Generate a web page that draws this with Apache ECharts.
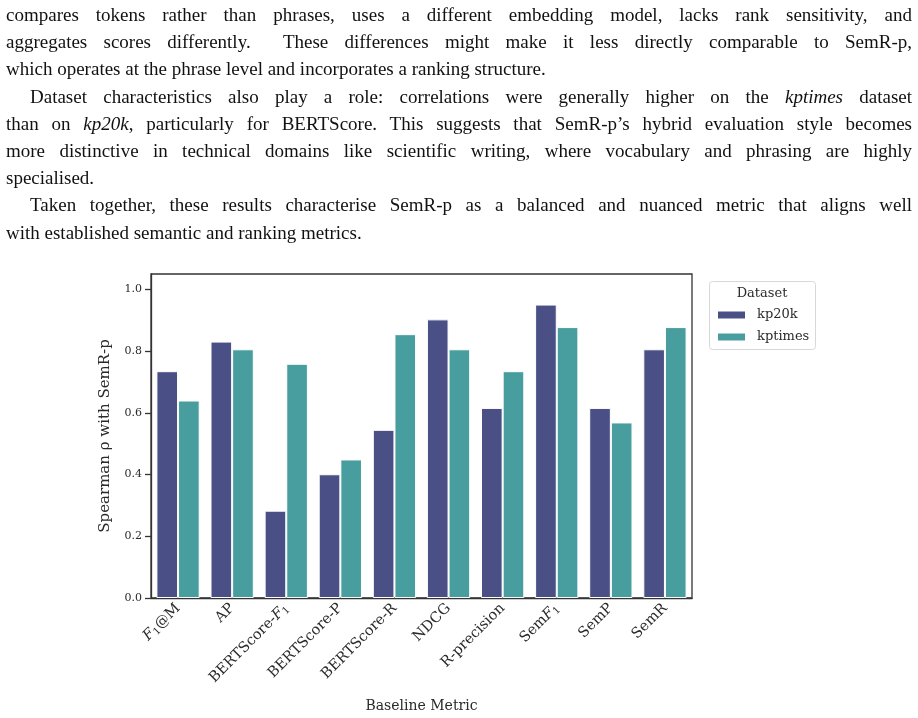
<!DOCTYPE html>
<html>
<head>
<meta charset="utf-8">
<script src="https://cdn.jsdelivr.net/npm/echarts@6/dist/echarts.min.js"></script>
<style>
  html, body { margin: 0; padding: 0; background: #fff; }
  #wrap { position: relative; width: 918px; height: 718px; overflow: hidden; }
  #chart { position: absolute; left: 0; top: 0; width: 918px; height: 718px; }
  #text { position: absolute; left: 6px; top: 1px; width: 906px; font-family: "Liberation Serif", serif; font-size: 19px; color: #111; line-height: 27.2px; }
  .ln { white-space: nowrap; text-align: justify; text-align-last: justify; }
  .last { text-align-last: left; }
  .ind { text-indent: 24px; }
</style>
</head>
<body>
<div id="wrap">
  <div id="chart"></div>
  <div id="text">
    <div class="ln">compares tokens rather than phrases, uses a different embedding model, lacks rank sensitivity, and</div>
    <div class="ln">aggregates scores differently.&nbsp; These differences might make it less directly comparable to SemR-p,</div>
    <div class="ln last">which operates at the phrase level and incorporates a ranking structure.</div>
    <div class="ln ind">Dataset characteristics also play a role: correlations were generally higher on the <i>kptimes</i> dataset</div>
    <div class="ln">than on <i>kp20k</i>, particularly for BERTScore. This suggests that SemR-p’s hybrid evaluation style becomes</div>
    <div class="ln">more distinctive in technical domains like scientific writing, where vocabulary and phrasing are highly</div>
    <div class="ln last">specialised.</div>
    <div class="ln ind">Taken together, these results characterise SemR-p as a balanced and nuanced metric that aligns well</div>
    <div class="ln last">with established semantic and ranking metrics.</div>
  </div>
</div>
<script>
const categories = ['F1@M', 'AP', 'BERTScore-F1', 'BERTScore-P', 'BERTScore-R', 'NDCG', 'R-precision', 'SemF1', 'SemP', 'SemR'];
const kp20k = [0.735, 0.831, 0.283, 0.401, 0.545, 0.903, 0.616, 0.951, 0.616, 0.806];
const kptimes = [0.640, 0.806, 0.759, 0.449, 0.855, 0.806, 0.735, 0.878, 0.569, 0.878];
const yTicks = [0, 0.2, 0.4, 0.6, 0.8, 1.0];

const FONT = '"DejaVu Serif", serif';
const TXT = '#2a2a2a';

const labelRich = {
  it: { fontFamily: FONT, fontStyle: 'italic', fontSize: 14.5, color: TXT },
  sub: { fontFamily: FONT, fontSize: 10, color: TXT, padding: [7, 0, 0, 0] }
};
function fmtCat(v) {
  if (v === 'F1@M') return '{it|F}{sub|1}@M';
  if (v === 'BERTScore-F1') return 'BERTScore-{it|F}{sub|1}';
  if (v === 'SemF1') return 'Sem{it|F}{sub|1}';
  return v;
}

const chart = echarts.init(document.getElementById('chart'), null, { renderer: 'canvas' });
chart.setOption({
  animation: false,
  backgroundColor: '#fff',
  grid: { left: 151, top: 274, right: 226, bottom: 120, show: true, borderColor: '#333', borderWidth: 1.3, backgroundColor: 'transparent' },
  title: {
    text: 'Dataset', left: 762, top: 287, textAlign: 'center', padding: 0,
    textStyle: { fontFamily: FONT, fontSize: 13, fontWeight: 'normal', color: TXT }
  },
  legend: {
    orient: 'vertical', left: 716, top: 308, padding: 0,
    itemWidth: 29, itemHeight: 9, itemGap: 8,
    icon: 'rect',
    textStyle: { fontFamily: FONT, fontSize: 13, lineHeight: 14, color: TXT, padding: [0, 0, 0, 6] },
    data: ['kp20k', 'kptimes']
  },
  graphic: [{
    type: 'rect', left: 709, top: 281,
    shape: { width: 106, height: 68, r: 3 },
    style: { fill: '#fff', stroke: '#d8d8d8', lineWidth: 1 },
    z: -1
  }],
  xAxis: {
    type: 'category',
    data: categories,
    name: 'Baseline Metric',
    nameLocation: 'middle',
    nameGap: 101,
    nameTextStyle: { fontFamily: FONT, fontSize: 14, color: TXT },
    axisLine: { lineStyle: { color: '#333', width: 1.3 } },
    axisTick: { alignWithLabel: true, length: 6, lineStyle: { color: '#333', width: 1.3 } },
    axisLabel: { rotate: 45, fontFamily: FONT, fontSize: 14.5, color: TXT, margin: 8, formatter: fmtCat, rich: labelRich, interval: 0 },
    splitLine: { show: false }
  },
  yAxis: {
    type: 'value', min: 0, max: 1.05,
    name: 'Spearman ρ with SemR-p',
    nameLocation: 'middle',
    nameGap: 38,
    nameTextStyle: { fontFamily: FONT, fontSize: 15, color: TXT },
    axisLine: { show: true, lineStyle: { color: '#333', width: 1.3 } },
    axisTick: { show: true, length: 6, customValues: yTicks, lineStyle: { color: '#333', width: 1.3 } },
    axisLabel: { fontFamily: FONT, fontSize: 11, color: TXT, margin: 9, customValues: yTicks, formatter: v => v.toFixed(1) },
    splitLine: { show: false }
  },
  series: [
    { name: 'kp20k', type: 'bar', data: kp20k, barGap: '0%', barCategoryGap: '20%',
      itemStyle: { color: '#4a5085', borderColor: '#fff', borderWidth: 1 } },
    { name: 'kptimes', type: 'bar', data: kptimes,
      itemStyle: { color: '#489e9e', borderColor: '#fff', borderWidth: 1 } }
  ]
});
</script>
</body>
</html>
